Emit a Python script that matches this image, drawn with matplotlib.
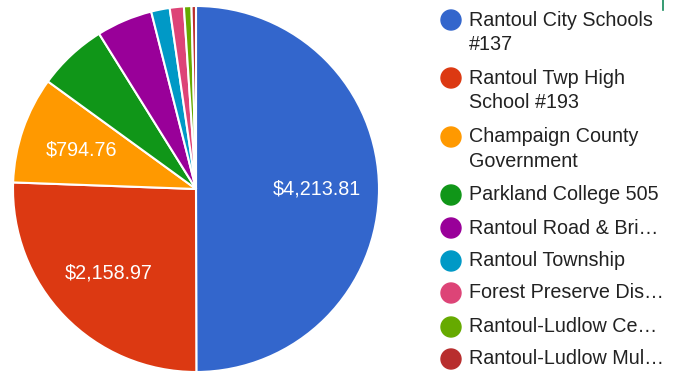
import matplotlib
matplotlib.use("Agg")
import matplotlib.pyplot as plt
from matplotlib.patches import Circle
from matplotlib.lines import Line2D
from matplotlib.transforms import IdentityTransform

categories = ["Rantoul City Schools #137", "Rantoul Twp High School #193",
              "Champaign County Government", "Parkland College 505",
              "Rantoul Road & Bridge", "Rantoul Township",
              "Forest Preserve District", "Rantoul-Ludlow Cemetery",
              "Rantoul-Ludlow Multi"]
legend_labels = ["Rantoul City Schools\n#137", "Rantoul Twp High\nSchool #193",
                 "Champaign County\nGovernment", "Parkland College 505",
                 "Rantoul Road & Bri\u2026", "Rantoul Township",
                 "Forest Preserve Dis\u2026", "Rantoul-Ludlow Ce\u2026",
                 "Rantoul-Ludlow Mul\u2026"]
values = [4213.81, 2158.97, 794.76, 516, 417, 138, 105, 56, 33]
slice_labels = ["$4,213.81", "$2,158.97", "$794.76", "", "", "", "", "", ""]
colors = ["#3366cc", "#dc3912", "#ff9900", "#109618", "#990099",
          "#0099c6", "#dd4477", "#66aa00", "#b82e2e"]

W, H = 681, 373
fig = plt.figure(figsize=(W / 100, H / 100), dpi=100)
plt.rcParams['font.family'] = ['Liberation Sans', 'DejaVu Sans']

cx, cy, r = 196, 189, 183
ax = fig.add_axes([(cx - r) / W, (H - cy - r) / H, 2 * r / W, 2 * r / H])
wedges, texts = ax.pie(values, colors=colors, startangle=90, counterclock=False,
                       labels=slice_labels, labeldistance=0.66, radius=1,
                       wedgeprops=dict(edgecolor="white", linewidth=1.5),
                       textprops=dict(color="white", fontsize=14.2))
for t in texts:
    t.set_ha("center")
    t.set_va("center")
ax.set_xlim(-1, 1)
ax.set_ylim(-1, 1)
ax.set_aspect("equal")
ax.axis("off")

# legend
row_y = [20, 78, 137, 195, 228, 261, 293, 327, 359]
for lab, col, y in zip(legend_labels, colors, row_y):
    fig.patches.append(Circle((451, H - y), radius=10, color=col,
                              transform=IdentityTransform(), figure=fig))
    for i, ln in enumerate(lab.split("\n")):
        fig.text(469 / W, (H - (y + 25 * i)) / H, ln, ha="left", va="center",
                 fontsize=14.2, color="#222222")

fig.lines.append(Line2D([662.5 / W, 662.5 / W], [1, (H - 10) / H], color="#138a5a",
                        linewidth=1.2, transform=fig.transFigure))

fig.savefig("out.png", dpi=100)
